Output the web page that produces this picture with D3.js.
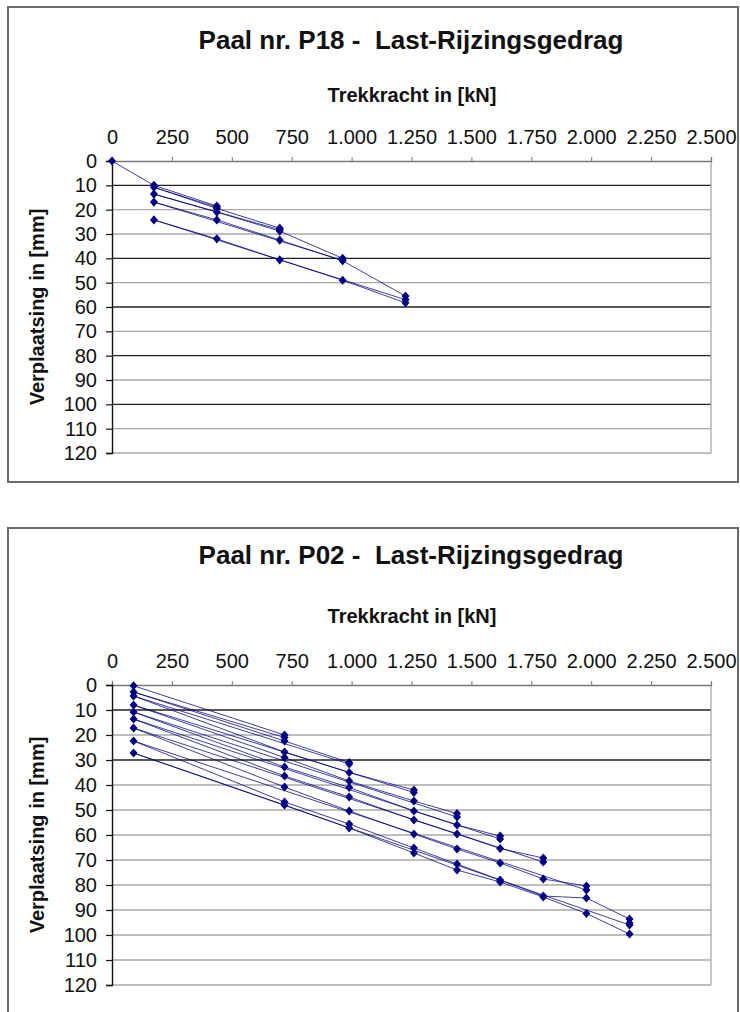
<!DOCTYPE html>
<html>
<head>
<meta charset="utf-8">
<script src="https://cdn.jsdelivr.net/npm/d3@7"></script>
<style>
    body { margin: 0; background: #fff; }
    svg { display: block; font-family: "Liberation Sans", Arial, sans-serif; }
    .title { white-space: pre; }
</style>
</head>
<body>
<div id="chart"></div>
<script>
"use strict";

// axis ticks shared by both charts
var xTicks = [0, 250, 500, 750, 1000, 1250, 1500, 1750, 2000, 2250, 2500];
var yTicks = [0, 10, 20, 30, 40, 50, 60, 70, 80, 90, 100, 110, 120];

// P18: readings in test order (load kN, displacement mm)
var p18Load = [0, 175, 437.5, 437.5,
    175, 437.5, 700, 700,
    175, 437.5, 700, 962.5, 962.5,
    175, 437.5, 700, 962.5, 1225, 1225,
    175, 437.5, 700, 962.5, 1225];
var p18Disp = [0, 10, 18.5, 19,
    10.8, 19.5, 27.6, 28.2,
    13.6, 21, 28.8, 40, 40.8,
    16.9, 24.2, 32.5, 41, 55.5, 57,
    24.2, 32, 40.6, 49, 58.3];

// P02: readings in test order (load kN, displacement mm)
var p02Load = [90, 720, 720,
    90, 720, 990, 990,
    90, 720, 990, 1260, 1260,
    90, 720, 990, 1260, 1440, 1440,
    90, 720, 990, 1260, 1440, 1620, 1620,
    90, 720, 990, 1260, 1440, 1620, 1800, 1800,
    90, 720, 990, 1260, 1440, 1620, 1800, 1980, 1980,
    90, 720, 990, 1260, 1440, 1620, 1800, 1980, 2160, 2160, 2160,
    90, 720, 990, 1260, 1440, 1620, 1800, 1980, 2160];
var p02Disp = [0.3, 20, 21,
    2.8, 22.4, 31, 31.6,
    4.4, 26.8, 35, 42, 43,
    8, 29, 38.4, 46.4, 51.4, 52.8,
    10.8, 32.8, 41, 50.4, 56, 60.4, 61.6,
    13.6, 36.4, 44.8, 54, 59.6, 65.4, 69.2, 70.8,
    17.2, 40.8, 50.4, 59.6, 65.6, 71.2, 77.6, 80.4, 82,
    22.4, 46.8, 55.6, 65.2, 71.6, 78, 84.4, 85.2, 93.6, 95.2, 96,
    27.2, 48, 57.2, 67.2, 74, 78.8, 84.8, 91.4, 99.6];

var WIDTH = 740;
var HEIGHT = 1012;
var SERIES_COLOR = "#000080";

var nlFormat = d3.formatLocale({
    decimal: ",",
    thousands: ".",
    grouping: [3],
    currency: ["€", ""]
}).format(",d");

var svg = d3.select("#chart").append("svg")
    .attr("width", WIDTH)
    .attr("height", HEIGHT);

function drawChart(cfg) {
    var g = svg.append("g");

    g.append("rect")
        .attr("x", 8)
        .attr("y", cfg.frameTop)
        .attr("width", 730)
        .attr("height", cfg.frameHeight)
        .attr("fill", "#fff")
        .attr("stroke", "#6a6a6a")
        .attr("stroke-width", 2);

    var x = d3.scaleLinear()
        .domain([0, 2500])
        .range([112, 711]);
    var y = d3.scaleLinear()
        .domain([0, 120])
        .range([cfg.plotTop, cfg.plotBottom]);

    g.append("text")
        .attr("class", "title")
        .attr("x", 411)
        .attr("y", cfg.titleY)
        .attr("text-anchor", "middle")
        .attr("font-size", 26)
        .attr("font-weight", "bold")
        .attr("fill", "#111")
        .text(cfg.title);

    g.append("text")
        .attr("x", 412)
        .attr("y", cfg.xTitleY)
        .attr("text-anchor", "middle")
        .attr("font-size", 20)
        .attr("font-weight", "bold")
        .attr("fill", "#111")
        .text("Trekkracht in [kN]");

    g.append("text")
        .attr("transform", "translate(44," + (cfg.plotTop + cfg.plotBottom) / 2 + ") rotate(-90)")
        .attr("text-anchor", "middle")
        .attr("font-size", 20)
        .attr("font-weight", "bold")
        .attr("fill", "#111")
        .text("Verplaatsing in [mm]");

    // horizontal gridlines, some rendered darker in the scanned original
    g.append("g")
        .selectAll("line")
        .data(yTicks.slice(1))
        .enter().append("line")
        .attr("x1", x(0))
        .attr("x2", x(2500))
        .attr("y1", function(d) { return y(d); })
        .attr("y2", function(d) { return y(d); })
        .attr("stroke", function(d) {
            return cfg.darkGrid.indexOf(d) >= 0 ? "#222" : "#a8a8a8";
        })
        .attr("stroke-width", 1.3);

    // right border of plot
    g.append("line")
        .attr("x1", x(2500)).attr("x2", x(2500))
        .attr("y1", y(0)).attr("y2", y(120))
        .attr("stroke", "#a8a8a8")
        .attr("stroke-width", 1.3);

    var xAxis = g.append("g")
        .attr("transform", "translate(0," + y(0) + ")")
        .call(d3.axisTop(x).tickValues(xTicks).tickSize(4).tickPadding(13).tickFormat(nlFormat));
    xAxis.select(".domain").attr("stroke", "#777").attr("stroke-width", 1.3);
    xAxis.selectAll(".tick line").attr("stroke", "#777");
    xAxis.selectAll("text")
        .attr("font-size", 20)
        .attr("font-family", "Liberation Sans, Arial, sans-serif")
        .attr("fill", "#111");

    var yAxis = g.append("g")
        .attr("transform", "translate(" + x(0) + ",0)")
        .call(d3.axisLeft(y).tickValues(yTicks).tickSize(6).tickPadding(9));
    yAxis.select(".domain").attr("stroke", "#111").attr("stroke-width", 1.4);
    yAxis.selectAll(".tick line").attr("stroke", "#111").attr("stroke-width", 1.2);
    yAxis.selectAll("text")
        .attr("font-size", 20)
        .attr("font-family", "Liberation Sans, Arial, sans-serif")
        .attr("fill", "#111");

    var points = cfg.load.map(function(d, i) {
        return [d, cfg.disp[i]];
    });

    var line = d3.line()
        .x(function(d) { return x(d[0]); })
        .y(function(d) { return y(d[1]); });

    g.append("path")
        .datum(points)
        .attr("d", line)
        .attr("fill", "none")
        .attr("stroke", SERIES_COLOR)
        .attr("stroke-opacity", 0.75)
        .attr("stroke-width", 1);

    g.append("g")
        .selectAll("path")
        .data(points)
        .enter().append("path")
        .attr("d", "M0,-4.6L4,0L0,4.6L-4,0Z")
        .attr("transform", function(d) {
            return "translate(" + x(d[0]) + "," + y(d[1]) + ")";
        })
        .attr("fill", SERIES_COLOR);
}

drawChart({
    title: "Paal nr. P18 -  Last-Rijzingsgedrag",
    frameTop: 7,
    frameHeight: 475,
    titleY: 49,
    xTitleY: 102,
    plotTop: 161,
    plotBottom: 453,
    darkGrid: [10, 40, 60, 80, 100],
    load: p18Load,
    disp: p18Disp
});

drawChart({
    title: "Paal nr. P02 -  Last-Rijzingsgedrag",
    frameTop: 528,
    frameHeight: 500,
    titleY: 564,
    xTitleY: 623,
    plotTop: 685,
    plotBottom: 985,
    darkGrid: [10, 30],
    load: p02Load,
    disp: p02Disp
});
</script>
</body>
</html>
